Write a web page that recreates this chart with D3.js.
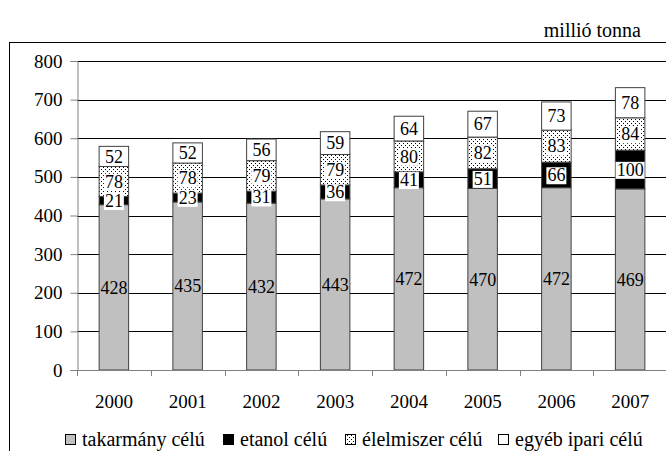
<!DOCTYPE html>
<html>
<head>
<meta charset="utf-8">
<script src="https://cdn.jsdelivr.net/npm/d3@7"></script>
<style>
  body { margin: 0; background: #fff; }
  svg { display: block; }
</style>
</head>
<body>
<svg width="666" height="451" style="font-family:'Liberation Serif'"></svg>
<script>
// Data
var years = ["2000", "2001", "2002", "2003", "2004", "2005", "2006", "2007"];
var takarmany = [428, 435, 432, 443, 472, 470, 472, 469];
var etanol = [21, 23, 31, 36, 41, 51, 66, 100];
var elelmiszer = [78, 78, 79, 79, 80, 82, 83, 84];
var egyeb = [52, 52, 56, 59, 64, 67, 73, 78];
var seriesNames = ["takarmány célú", "etanol célú", "élelmiszer célú", "egyéb ipari célú"];
var yTicks = [0, 100, 200, 300, 400, 500, 600, 700, 800];
var unitLabel = "millió tonna";

var FONT = "'Liberation Serif'";

var svg = d3.select("svg"),
    width = 666,
    height = 451;

var margin = { left: 77, right: 0, top: 61, bottom: 81 };

// pattern for élelmiszer
var defs = svg.append("defs");
var pat = defs.append("pattern")
    .attr("id", "dots")
    .attr("patternUnits", "userSpaceOnUse")
    .attr("width", 4).attr("height", 4);
pat.append("rect").attr("width", 4).attr("height", 4).attr("fill", "#fff");
pat.append("rect").attr("x", 1).attr("y", 1).attr("width", 1).attr("height", 1).attr("fill", "#000");
pat.append("rect").attr("x", 3).attr("y", 3).attr("width", 1).attr("height", 1).attr("fill", "#000");

var fills = ["#c0c0c0", "#000000", "url(#dots)", "#ffffff"];

// outer frame
svg.append("rect")
    .attr("x", 9.5).attr("y", 42.5)
    .attr("width", 700).attr("height", 500)
    .attr("fill", "none").attr("stroke", "#000").attr("stroke-width", 1);

svg.append("text")
    .attr("x", 641).attr("y", 37)
    .attr("text-anchor", "end")
    .style("font-family", FONT)
    .style("font-size", "20px")
    .text(unitLabel);

// scales
var x = d3.scaleBand()
    .domain(years)
    .range([margin.left, 667])
    .paddingInner(0.6)
    .paddingOuter(0.3);

var y = d3.scaleLinear()
    .domain([0, 800])
    .range([370, margin.top]);

// gridlines
svg.append("g")
    .selectAll("line")
    .data(yTicks.filter(function(d) { return d > 0; }))
    .join("line")
    .attr("x1", margin.left).attr("x2", 667)
    .attr("y1", function(d) { return Math.round(y(d)) + 0.5; })
    .attr("y2", function(d) { return Math.round(y(d)) + 0.5; })
    .attr("stroke", "#000").attr("stroke-width", 1);

// stacked data
var rows = years.map(function(yr, i) {
  return { year: yr, a: takarmany[i], b: etanol[i], c: elelmiszer[i], d: egyeb[i] };
});
var keys = ["a", "b", "c", "d"];
var stacked = d3.stack().keys(keys)(rows);

var groups = svg.append("g")
    .selectAll("g")
    .data(stacked)
    .join("g")
    .attr("fill", function(d, i) { return fills[i]; });

groups.selectAll("rect")
    .data(function(d) { return d; })
    .join("rect")
    .attr("x", function(d) { return x(d.data.year); })
    .attr("y", function(d) { return y(d[1]); })
    .attr("width", x.bandwidth())
    .attr("height", function(d) { return y(d[0]) - y(d[1]); })
    .attr("stroke", "#404040").attr("stroke-width", 1);

// axes
var yAxis = d3.axisLeft(y).tickValues(yTicks).tickSize(7).tickPadding(8);
var gy = svg.append("g")
    .attr("transform", "translate(" + (margin.left + 0.5) + ",0)")
    .call(yAxis)
    .attr("font-family", null);
gy.select(".domain").attr("stroke", "#808080");
gy.selectAll(".tick line").attr("stroke", "#808080");
gy.selectAll(".tick text")
    .style("font-family", FONT)
    .style("font-size", "19px")
    .attr("fill", "#000");

var boundaries = d3.range(years.length + 1).map(function(i) { return margin.left + i * x.step(); });
var gx = svg.append("g");
gx.append("line")
    .attr("x1", margin.left).attr("x2", 667)
    .attr("y1", Math.round(y(0)) + 0.5).attr("y2", Math.round(y(0)) + 0.5)
    .attr("stroke", "#808080");
gx.selectAll(".xt")
    .data(boundaries)
    .join("line")
    .attr("class", "xt")
    .attr("x1", function(d) { return Math.round(d) + 0.5; })
    .attr("x2", function(d) { return Math.round(d) + 0.5; })
    .attr("y1", Math.round(y(0)))
    .attr("y2", Math.round(y(0)) + 6)
    .attr("stroke", "#808080");
gx.selectAll(".xl")
    .data(years)
    .join("text")
    .attr("class", "xl")
    .attr("x", function(d) { return x(d) + x.bandwidth() / 2; })
    .attr("y", 408)
    .attr("text-anchor", "middle")
    .style("font-family", FONT)
    .style("font-size", "19px")
    .text(function(d) { return d; });

// data labels
var labelLayer = svg.append("g");
stacked.forEach(function(series, si) {
  series.forEach(function(d) {
    var cx = x(d.data.year) + x.bandwidth() / 2;
    var cy = (y(d[0]) + y(d[1])) / 2;
    var g = labelLayer.append("g");
    var t = g.append("text")
        .attr("x", cx).attr("y", cy)
        .attr("text-anchor", "middle")
        .attr("dy", "0.35em")
        .style("font-family", FONT)
        .style("font-size", "18px")
        .text(d.data[series.key]);
    if (si > 0) {
      var bb = t.node().getBBox();
      g.insert("rect", "text")
          .attr("x", bb.x - 1).attr("y", bb.y + 2)
          .attr("width", bb.width + 2).attr("height", bb.height - 3)
          .attr("fill", "#fff");
    }
  });
});

// legend
var legendX = [65, 223, 345, 498];
var legend = svg.append("g");
var ly = 446;
seriesNames.forEach(function(name, i) {
  legend.append("rect")
      .attr("x", legendX[i] + 0.5).attr("y", ly - 11.5)
      .attr("width", 10).attr("height", 10)
      .attr("fill", fills[i])
      .attr("stroke", "#000").attr("stroke-width", 1);
  legend.append("text")
      .attr("x", legendX[i] + 17).attr("y", ly)
      .style("font-family", FONT)
      .style("font-size", "20px")
      .text(name);
});
</script>
</body>
</html>
